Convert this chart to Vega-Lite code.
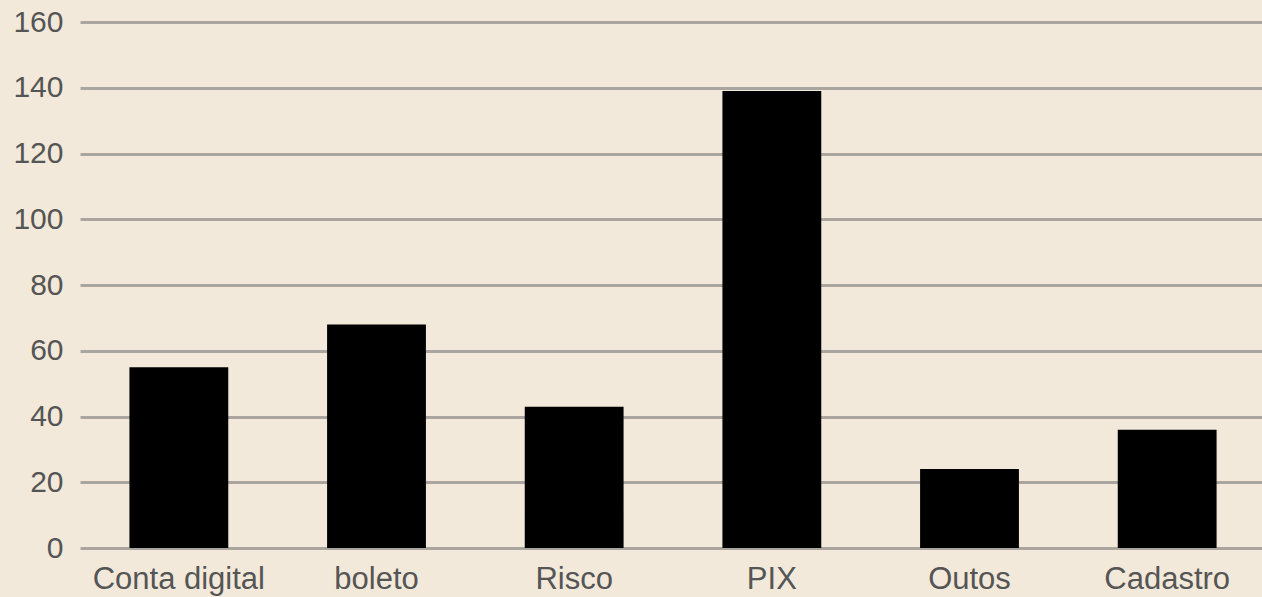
{
  "$schema": "https://vega.github.io/schema/vega-lite/v6.json",
  "autosize": "none",
  "width": 1186,
  "height": 526,
  "padding": {"left": 80, "top": 22, "right": 0, "bottom": 49},
  "background": "#f2e9da",
  "config": {
    "view": {"stroke": null},
    "font": "Liberation Sans"
  },
  "data": {
    "values": [
      {"categoria": "Conta digital", "valor": 55},
      {"categoria": "boleto", "valor": 68},
      {"categoria": "Risco", "valor": 43},
      {"categoria": "PIX", "valor": 139},
      {"categoria": "Outos", "valor": 24},
      {"categoria": "Cadastro", "valor": 36}
    ]
  },
  "mark": {"type": "bar", "color": "#000000"},
  "encoding": {
    "x": {
      "field": "categoria",
      "type": "nominal",
      "sort": null,
      "scale": {"paddingInner": 0.5, "paddingOuter": 0.25},
      "axis": {
        "title": null,
        "labelAngle": 0,
        "ticks": false,
        "domain": false,
        "labelFontSize": 31,
        "labelColor": "#555555",
        "labelPadding": 16
      }
    },
    "y": {
      "field": "valor",
      "type": "quantitative",
      "scale": {"domain": [0, 160]},
      "axis": {
        "title": null,
        "values": [0, 20, 40, 60, 80, 100, 120, 140, 160],
        "ticks": false,
        "domain": false,
        "grid": true,
        "gridColor": "#aaa69f",
        "gridWidth": 3,
        "gridOpacity": 1,
        "labelFontSize": 30,
        "labelColor": "#555555",
        "labelPadding": 17
      }
    }
  }
}
